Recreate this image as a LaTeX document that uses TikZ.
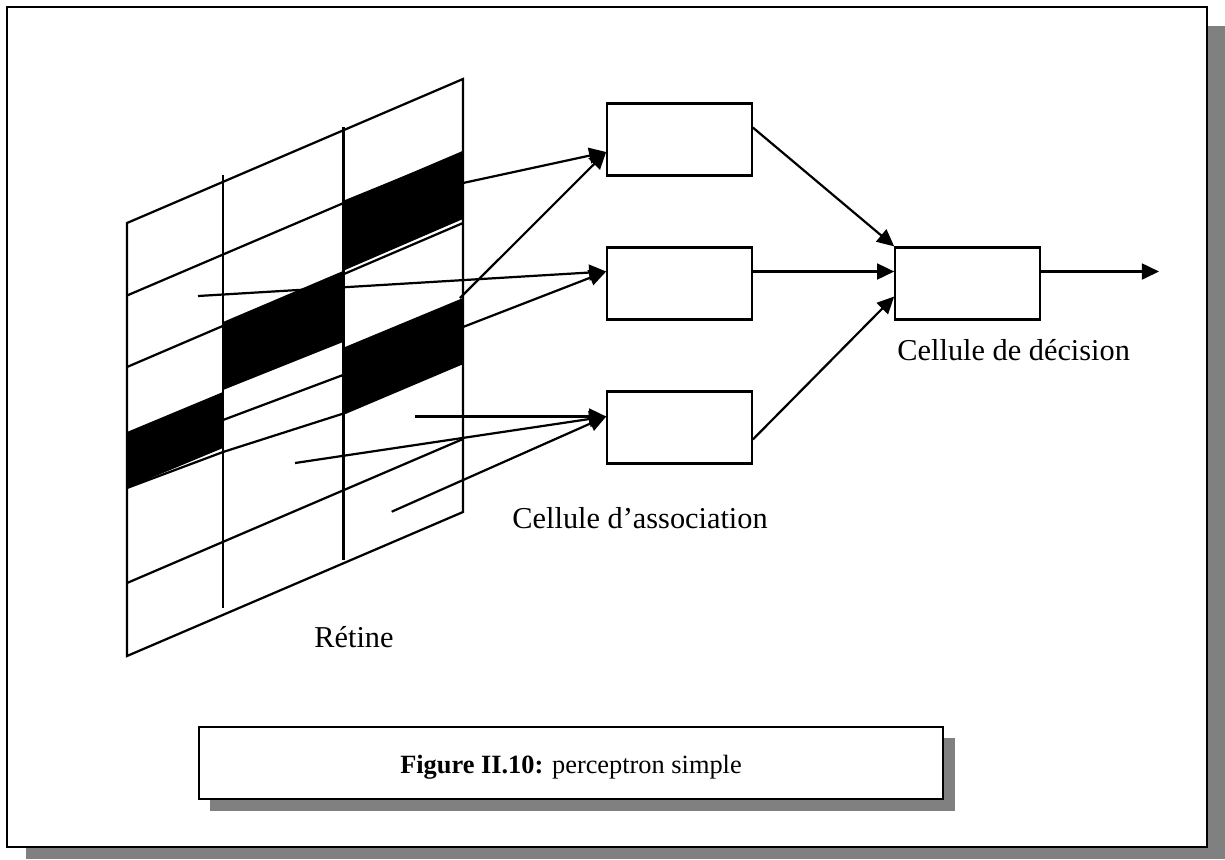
\documentclass[tikz,border=0pt]{standalone}
\usepackage{fontspec}
\setmainfont{Liberation Serif}
\usetikzlibrary{arrows.meta,calc}
\definecolor{shadowgray}{RGB}{128,128,128}
\begin{document}
\begin{tikzpicture}[x=0.4286pt,y=-0.4286pt,
  wire/.style={line width=0.95pt,line join=miter},
  arr/.style={wire,-{Triangle[length=7.3pt,width=6.8pt]}},
  cellbox/.style={draw,fill=white,line width=0.95pt,minimum width=61.9pt,
    minimum height=30.9pt,inner sep=0pt},
  band/.style={fill=black},
  shade/.style={fill=shadowgray},
  frame/.style={draw,fill=white,line width=1.05pt},
  label/.style={font=\fontsize{13}{15}\selectfont,inner sep=0pt}]
\useasboundingbox (0,0) rectangle (1225,859);

% outer frame with its drop shadow
\fill[shade] (26,26) rectangle (1225,859);
\path[frame] (7,7) rectangle (1207,847);

% caption box with its drop shadow
\fill[shade] (210,738) rectangle (955,811);
\node[frame,minimum width=318.9pt,minimum height=30.9pt,inner sep=0pt]
  (capbox) at (571,763) {};
\node[label,font=\fontsize{11.3}{13}\selectfont,anchor=base] (caption) at (571,773)
  {\textbf{Figure II.10:} perceptron simple};

% retina: black cells
\fill[band] (345,200) -- (463,152) -- (463,219) -- (345,270) -- cycle;
\fill[band] (223,322) -- (343,271) -- (343,342) -- (223,390) -- cycle;
\fill[band] (345,347) -- (463,298) -- (463,363) -- (345,413) -- cycle;
\fill[band] (127,432) -- (223,392) -- (223,448) -- (127,488) -- cycle;

% retina: grid
\draw[wire] (127,223) -- (463,79) -- (463,512) -- (127,656) -- cycle;
\draw[wire] (223,175) -- (223,608);
\draw[wire] (343.5,127) -- (343.5,560);
\draw[wire] (127,295.5) -- (463,152);
\draw[wire] (127,367) -- (463,223);
\draw[wire] (223,420) -- (343,375);
\draw[wire] (127,488) -- (223,452) -- (345,413) -- (463,363);
\draw[wire] (127,583) -- (463,439);

\node[label,anchor=base] (retine) at (354,647) {Rétine};

% association cells and decision cell
\node[cellbox] (a1) at (679.5,139.5) {};
\node[cellbox] (a2) at (679.5,283.5) {};
\node[cellbox] (a3) at (679.5,427.5) {};
\node[cellbox] (dec) at (967.5,283.5) {};

\node[label,anchor=base west] (assoc) at (512,528) {Cellule d’association};
\node[label,anchor=base west] (decl) at (897,360) {Cellule de décision};

% retina points feeding the association cells
\coordinate (r1) at (463,183);
\coordinate (r2) at (460,298);
\coordinate (r3) at (198,296);
\coordinate (r4) at (463,327);
\coordinate (r5) at (415,416.5);
\coordinate (r6) at (295,463);
\coordinate (r7) at (391.7,511.7);
\coordinate (out) at (1159,271.5);

\draw[arr] (r1) -- ($(a1.west)+(0,12.5)$);
\draw[arr] (r2) -- ($(a1.west)+(0,12.5)$);
\draw[arr] (r3) -- ($(a2.west)+(0,-12)$);
\draw[arr] (r4) -- ($(a2.west)+(0,-12)$);
\draw[arr] (r5) -- ($(a3.west)+(0,-11)$);
\draw[arr] (r6) -- ($(a3.west)+(0,-11)$);
\draw[arr] (r7) -- ($(a3.west)+(0,-11)$);

\draw[arr] ($(a1.east)+(0,-12)$) -- (dec.north west);
\draw[arr] ($(a2.east)+(0,-12)$) -- ($(dec.west)+(0,-12)$);
\draw[arr] ($(a3.east)+(0,12)$) -- ($(dec.west)+(0,13)$);
\draw[arr] ($(dec.east)+(0,-12)$) -- (out);
\end{tikzpicture}
\end{document}
